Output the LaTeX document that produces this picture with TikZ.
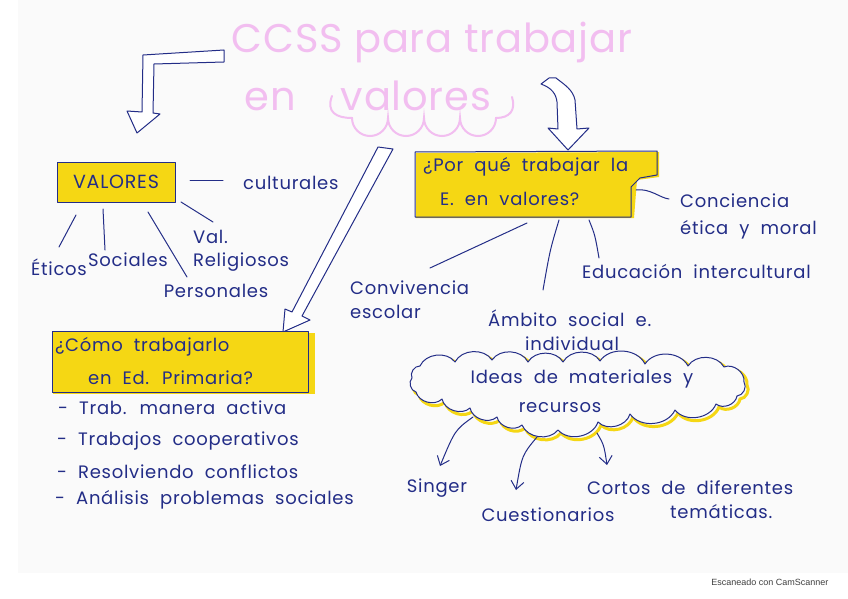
\documentclass[tikz,border=0pt]{standalone}
\usepackage{fontspec}
\newfontfamily\hand[LetterSpace=4,WordSpace=2]{Poppins}
\newfontfamily\titlefont[LetterSpace=2]{Poppins}
\newfontfamily\scanfont{Liberation Sans}
\usetikzlibrary{arrows.meta}
\definecolor{pen}{RGB}{35,45,135}
\definecolor{marker}{RGB}{245,215,20}
\definecolor{titlepink}{RGB}{242,190,240}
\definecolor{paper}{RGB}{250,250,250}
\tikzset{
	ink/.style={draw=pen, line width=1pt, line cap=round, line join=round},
	hand/.style={text=pen, font=\hand\fontsize{18}{22}\selectfont, inner sep=0pt},
	titletext/.style={text=titlepink, font=\titlefont\fontsize{40}{44}\selectfont, inner sep=0pt},
	hollow/.style={ink, fill=white},
	box/.style={ink, fill=marker, inner sep=0pt},
	tipped/.style={ink, -{Straight Barb[length=8pt,width=13pt]}},
	puff/.style={bend left=60},
}
% cloud outline, points taken clockwise round the picture
\def\cloudpath{(412,378) to[puff] (420,366) to[puff] (455,362) to[puff] (492,360) to[puff] (528,362)
	to[puff] (563,362) to[puff] (600,361) to[puff] (645,364) to[puff] (688,366) to[puff] (724,367)
	to[puff] (744,382) to[puff] (737,396) to[puff] (716,404) to[puff] (675,410) to[puff] (630,414)
	to[puff] (598,422) to[puff] (558,430) to[puff] (522,425) to[puff] (497,417) to[puff] (470,408)
	to[puff] (442,399) to[puff] (416,392) to[puff] cycle}

\begin{document}
\begin{tikzpicture}[x=1pt,y=-1pt]
	\useasboundingbox (0,0) rectangle (848,599);
	%PAPER
	\fill[white] (0,0) rectangle (848,599);
	\fill[paper] (18,0) rectangle (848,573);

	%TITLE
	\node[titletext] (titulo) at (432,42) {CCSS para trabajar};
	\node[titletext] (en) at (270,100) {en};
	\node[titletext] (valorestit) at (416,96) {valores};
	\draw[titlepink, line width=2pt, line cap=round] (332,96) .. controls (326,112) and (336,118) .. (352,118)
		arc (180:0:18) arc (180:0:18) arc (180:0:18) arc (180:0:18)
		.. controls (510,118) and (516,110) .. (512,97);

	%ARROWS FROM TITLE
	\draw[hollow] (224,50) -- (143,55) -- (142,112) -- (127,111) -- (137,133) -- (160,114)
		-- (153,113) -- (154,64) -- (224,62) -- cycle;	%left
	\draw[hollow] (541,84) .. controls (552,88) and (556,94) .. (557,102) -- (558,129) -- (548,128)
		-- (568,150) -- (589,128) -- (577,129) -- (575,100) .. controls (573,90) and (565,85) .. (556,78)
		-- (549,78) -- cycle;	%right
	\draw[hollow] (378,147) -- (292,312) -- (285,309) -- (283,332) -- (310,320) -- (302,316)
		-- (393,149) -- cycle;	%middle

	%VALORES
	\node[box, minimum width=118pt, minimum height=40pt, text=pen, font=\hand\fontsize{19}{22}\selectfont] (valores) at (116,182) {VALORES};
	\node[hand, anchor=west] (culturales) at (243,183) {culturales};
	\node[hand] (eticos) at (59,267) {Éticos};
	\node[hand] (sociales) at (128,260) {Sociales};
	\node[hand] (personales) at (216,291) {Personales};
	\node[hand, anchor=west] (val) at (193,237) {Val.};
	\node[hand, anchor=west] (religiosos) at (193,262) {Religiosos};
	\coordinate (c1) at (190,180); \coordinate (c1e) at (223,180);
	\coordinate (e1) at (76,215); \coordinate (e1e) at (59,247);
	\coordinate (s1) at (103,209); \coordinate (s1e) at (105,250);
	\coordinate (p1) at (148,212); \coordinate (p1e) at (187,277);
	\coordinate (r1) at (181,202); \coordinate (r1e) at (213,222);
	\draw[ink] (c1) -- (c1e);
	\draw[ink] (e1) -- (e1e);
	\draw[ink] (s1) -- (s1e);
	\draw[ink] (p1) -- (p1e);
	\draw[ink] (r1) -- (r1e);

	%POR QUE
	\fill[marker] (416,153) -- (659,152) -- (659,177) -- (637,180) -- (634,218) -- (416,218) -- cycle;
	\draw[ink] (415,152) -- (657,151) -- (657,175) -- (640,178) -- (631,187) -- (631,217) -- (415,217) -- cycle;
	\node[hand, anchor=west] (porque) at (423,167) {¿Por qué trabajar la};
	\node[hand, anchor=west] (porque2) at (440,199) {E. en valores?};
	\node[hand, anchor=west] (conciencia) at (680,201) {Conciencia};
	\node[hand, anchor=west] (etica) at (680,230) {ética y moral};
	\node[hand, anchor=west] (convivencia) at (350,288) {Convivencia};
	\node[hand, anchor=west] (escolar) at (350,312) {escolar};
	\node[hand, anchor=west] (educacion) at (582,271) {Educación intercultural};
	\node[hand, anchor=west] (ambito) at (488,318) {Ámbito social e.};
	\node[hand, anchor=west] (individual) at (525,344) {individual};
	\coordinate (q1) at (636,190); \coordinate (q1e) at (669,199);
	\coordinate (q2) at (527,223); \coordinate (q2e) at (430,268);
	\coordinate (q3) at (559,220); \coordinate (q3e) at (543,290);
	\coordinate (q4) at (589,220); \coordinate (q4e) at (599,258);
	\draw[ink] (q1) .. controls (650,188) and (660,198) .. (q1e);
	\draw[ink] (q2) -- (q2e);
	\draw[ink] (q3) .. controls (550,250) .. (q3e);
	\draw[ink] (q4) .. controls (595,235) .. (q4e);

	%COMO
	\fill[marker] (53,333) rectangle (315,394);
	\node[box, minimum width=256pt, minimum height=61pt] (como) at (180,362) {};
	\node[hand, anchor=west] (como1) at (55,347) {¿Cómo trabajarlo};
	\node[hand, anchor=west] (como2) at (88,378) {en Ed. Primaria?};
	\node[hand, anchor=west] (l1) at (58,408) {- Trab. manera activa};
	\node[hand, anchor=west] (l2) at (57,441) {- Trabajos cooperativos};
	\node[hand, anchor=west] (l3) at (57,472) {- Resolviendo conflictos};
	\node[hand, anchor=west] (l4) at (55,500) {- Análisis problemas sociales};

	%IDEAS
	\draw[marker, line width=3pt, shift={(3,3)}] \cloudpath;
	\draw[ink, fill=paper] \cloudpath;
	\node[hand] (ideas1) at (582,379) {Ideas de materiales y};
	\node[hand] (ideas2) at (560,408) {recursos};
	\node[hand] (singer) at (437,488) {Singer};
	\node[hand] (cuestionarios) at (548,515) {Cuestionarios};
	\node[hand, anchor=west] (cortos) at (587,488) {Cortos de diferentes};
	\node[hand, anchor=west] (tematicas) at (670,512) {temáticas.};
	\coordinate (i1) at (473,417); \coordinate (i1e) at (440,466);
	\coordinate (i2) at (537,437); \coordinate (i2e) at (516,490);
	\coordinate (i3) at (597,433); \coordinate (i3e) at (607,465);
	\draw[tipped] (i1) .. controls (455,430) .. (i1e);
	\draw[tipped] (i2) .. controls (522,455) .. (i2e);
	\draw[tipped] (i3) .. controls (604,445) .. (i3e);

	%SCANNER
	\node[anchor=east, font=\scanfont\fontsize{9}{10}\selectfont, text=black!75] (scan) at (832,582) {Escaneado con CamScanner};
\end{tikzpicture}
\end{document}
